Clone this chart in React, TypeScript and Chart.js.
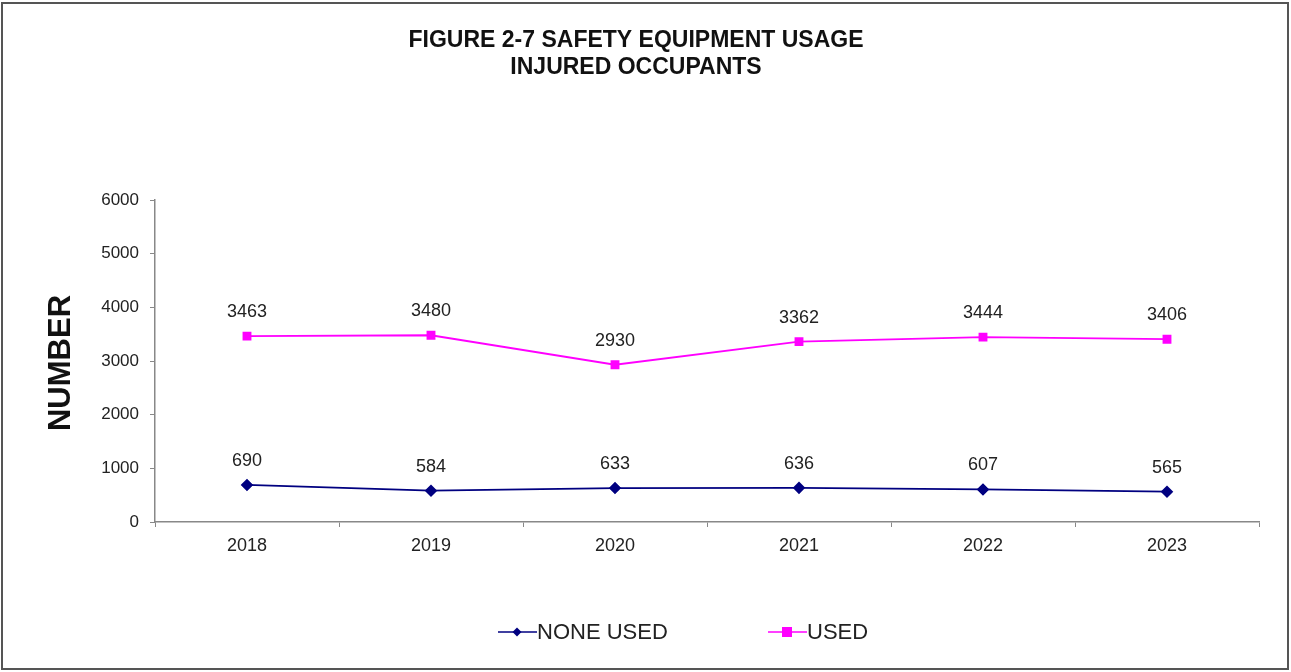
import React, { useEffect, useRef } from "react";
import { Chart, registerables } from "chart.js";

Chart.register(...registerables);

const years = ["2018", "2019", "2020", "2021", "2022", "2023"];
const noneUsed = [690, 584, 633, 636, 607, 565];
const used = [3463, 3480, 2930, 3362, 3444, 3406];
const titleLines = ["FIGURE 2-7 SAFETY EQUIPMENT USAGE", "INJURED OCCUPANTS"];
const yAxisTitle = "NUMBER";
const seriesNames = ["NONE USED", "USED"];

const FONT = "Arial, 'Liberation Sans', sans-serif";

const decorPlugin = {
  id: "decor",
  beforeDraw(chart: any) {
    const ctx = chart.ctx;
    ctx.save();
    ctx.fillStyle = "#ffffff";
    ctx.fillRect(0, 0, chart.width, chart.height);
    ctx.strokeStyle = "#555555";
    ctx.lineWidth = 2;
    ctx.strokeRect(2, 3, chart.width - 5, chart.height - 6);
    ctx.restore();
  },
  afterDraw(chart: any) {
    const ctx = chart.ctx;
    ctx.save();
    // title
    ctx.fillStyle = "#111111";
    ctx.font = `bold 23px ${FONT}`;
    ctx.textAlign = "center";
    ctx.textBaseline = "middle";
    ctx.fillText(titleLines[0], 636, 41);
    ctx.fillText(titleLines[1], 636, 68);
    // y axis title
    ctx.save();
    ctx.translate(61, 363);
    ctx.rotate(-Math.PI / 2);
    ctx.font = `bold 31px ${FONT}`;
    ctx.fillText(yAxisTitle, 0, 0);
    ctx.restore();
    // data labels
    ctx.font = `18px ${FONT}`;
    ctx.fillStyle = "#222222";
    ctx.textBaseline = "middle";
    chart.data.datasets.forEach((ds: any, i: number) => {
      const meta = chart.getDatasetMeta(i);
      meta.data.forEach((pt: any, j: number) => {
        ctx.fillText(String(ds.data[j]), pt.x, pt.y - 24);
      });
    });
    // legend
    const items = [
      { x: 498, color: "#000080", style: "rectRot", r: 4.5 },
      { x: 768, color: "#ff00ff", style: "rect", r: 5 },
    ];
    ctx.font = `22px ${FONT}`;
    ctx.textAlign = "left";
    ctx.textBaseline = "middle";
    items.forEach((it, i) => {
      const y = 632;
      ctx.strokeStyle = it.color;
      ctx.lineWidth = 1.5;
      ctx.beginPath();
      ctx.moveTo(it.x, y);
      ctx.lineTo(it.x + 39, y);
      ctx.stroke();
      ctx.fillStyle = it.color;
      if (it.style === "rect") {
        ctx.fillRect(it.x + 19 - it.r, y - it.r, it.r * 2, it.r * 2);
      } else {
        ctx.beginPath();
        ctx.moveTo(it.x + 19, y - it.r);
        ctx.lineTo(it.x + 19 + it.r, y);
        ctx.lineTo(it.x + 19, y + it.r);
        ctx.lineTo(it.x + 19 - it.r, y);
        ctx.closePath();
        ctx.fill();
      }
      ctx.fillStyle = "#222222";
      ctx.fillText(seriesNames[i], it.x + 39, y + 1);
    });
    ctx.restore();
  },
};

export default function App() {
  const ref = useRef<HTMLCanvasElement | null>(null);
  useEffect(() => {
    if (!ref.current) return;
    const chart = new Chart(ref.current, {
      type: "line",
      data: {
        labels: years,
        datasets: [
          {
            label: seriesNames[0],
            data: noneUsed,
            borderColor: "#000080",
            backgroundColor: "#000080",
            borderWidth: 1.8,
            pointStyle: "rectRot",
            pointRadius: 5,
            tension: 0,
          },
          {
            label: seriesNames[1],
            data: used,
            borderColor: "#ff00ff",
            backgroundColor: "#ff00ff",
            borderWidth: 1.8,
            pointStyle: "rect",
            pointRadius: 5,
            tension: 0,
          },
        ],
      },
      plugins: [decorPlugin],
      options: {
        animation: false,
        responsive: false,
        maintainAspectRatio: false,
        layout: { padding: { top: 200, bottom: 110, left: 0, right: 32 } },
        plugins: {
          legend: { display: false },
          title: { display: false },
          tooltip: { enabled: false },
        },
        scales: {
          x: {
            offset: true,
            afterFit: (s: any) => {
              s.height = 40;
            },
            grid: {
              display: true,
              offset: true,
              drawOnChartArea: false,
              drawTicks: true,
              tickLength: 5,
              color: "#888888",
            },
            border: { color: "#888888", width: 1.5 },
            ticks: {
              color: "#222222",
              font: { family: FONT, size: 18 },
              padding: 8,
              maxRotation: 0,
            },
          },
          y: {
            min: 0,
            max: 6000,
            afterFit: (s: any) => {
              s.width = 155;
            },
            grid: {
              display: true,
              drawOnChartArea: false,
              drawTicks: true,
              tickLength: 5,
              color: "#888888",
            },
            border: { color: "#888888", width: 1.5 },
            ticks: {
              stepSize: 1000,
              color: "#222222",
              font: { family: FONT, size: 17 },
              padding: 11,
              callback: (v: any) => String(v),
            },
          },
        },
      },
    });
    return () => chart.destroy();
  }, []);
  return (
    <div style={{ position: "absolute", left: 0, top: 0, width: 1291, height: 672 }}>
      <canvas ref={ref} width={1291} height={672} style={{ display: "block" }} />
    </div>
  );
}
